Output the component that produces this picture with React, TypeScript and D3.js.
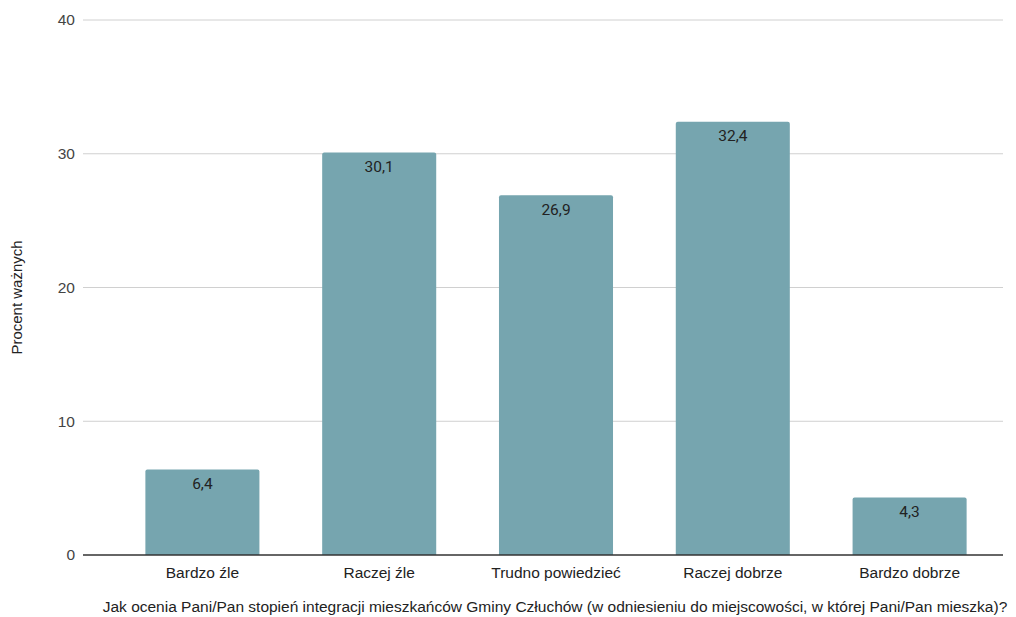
import React from "react";
import * as d3 from "d3";

const categories = ["Bardzo źle", "Raczej źle", "Trudno powiedzieć", "Raczej dobrze", "Bardzo dobrze"];
const values = [6.4, 30.1, 26.9, 32.4, 4.3];
const valueLabels = ["6,4", "30,1", "26,9", "32,4", "4,3"];
const yTicks = [0, 10, 20, 30, 40];
const yTitle = "Procent ważnych";
const xTitle = "Jak ocenia Pani/Pan stopień integracji mieszkańców Gminy Człuchów (w odniesieniu do miejscowości, w której Pani/Pan mieszka)?";

const W = 1016;
const H = 617;

export default function App() {
  const y = d3.scaleLinear().domain([0, 40]).range([555, 20]);
  const x = d3.scaleBand<string>().domain(categories).range([114, 998]).paddingInner(0.355).paddingOuter(0.1775);
  const font = "Arial, 'Liberation Sans', sans-serif";
  const bw = x.bandwidth();
  return (
    <svg width={W} height={H} style={{ position: "absolute", left: 0, top: 0, background: "#fff" }}>
      {yTicks.map((t) => (
        <g key={t}>
          {t !== 0 && <line x1={83} x2={1003} y1={y(t)} y2={y(t)} stroke="#d0d0d0" strokeWidth={1} />}
          <text x={75} y={y(t)} dy="0.35em" textAnchor="end" fontFamily={font} fontSize={15.5} fill="#444">
            {t}
          </text>
        </g>
      ))}
      {categories.map((c, i) => {
        const x0 = x(c)!;
        const y0 = y(values[i]);
        const r = 2;
        const d = `M${x0},${y(0)} L${x0},${y0 + r} Q${x0},${y0} ${x0 + r},${y0} L${x0 + bw - r},${y0} Q${x0 + bw},${y0} ${x0 + bw},${y0 + r} L${x0 + bw},${y(0)} Z`;
        return (
          <g key={c}>
            <path d={d} fill="#76a5af" />
            <text x={x0 + bw / 2} y={y0 + 19.5} textAnchor="middle" fontFamily="Roboto, sans-serif" fontSize={15.5} fill="#222">
              {valueLabels[i]}
            </text>
            <text x={x0 + bw / 2} y={578} textAnchor="middle" fontFamily={font} fontSize={15.5} fill="#222">
              {c}
            </text>
          </g>
        );
      })}
      <line x1={83} x2={1003} y1={y(0)} y2={y(0)} stroke="#333" strokeWidth={1.3} />
      <text transform={`translate(22,${(y(0) + y(40)) / 2 + 10}) rotate(-90)`} textAnchor="middle" fontFamily={font} fontSize={15} fill="#222">
        {yTitle}
      </text>
      <text x={555} y={612} textAnchor="middle" fontFamily={font} fontSize={15.5} fill="#222">
        {xTitle}
      </text>
    </svg>
  );
}
